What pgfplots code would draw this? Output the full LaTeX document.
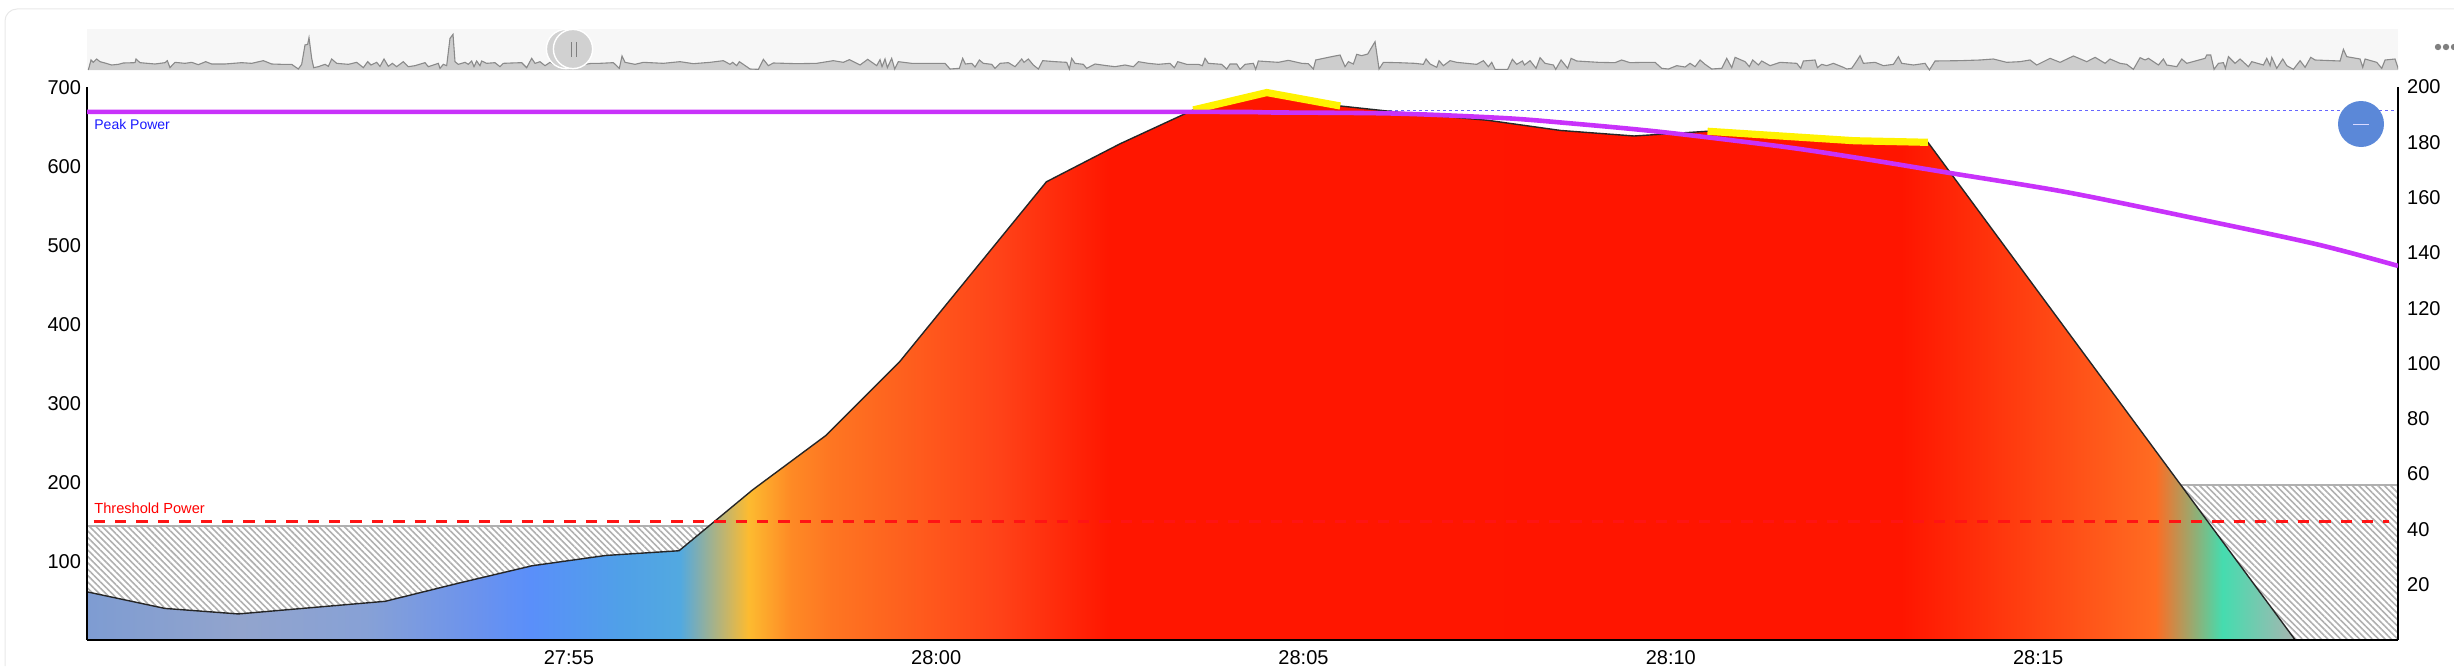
\documentclass[border=0pt]{standalone}
\usepackage{pgfplots}
\pgfplotsset{compat=1.18}
\usepackage{pgfplotstable}
\usepackage{fontspec}
\setmainfont{Liberation Sans}
\usetikzlibrary{patterns.meta}
\definecolor{gA}{HTML}{7E9CD2}\definecolor{gB}{HTML}{92A4CD}\definecolor{gC}{HTML}{87A1D6}
\definecolor{gD}{HTML}{6A92EE}\definecolor{gE}{HTML}{5A8FFA}\definecolor{gF}{HTML}{50A0E8}
\definecolor{gG}{HTML}{52A9E0}\definecolor{gH}{HTML}{FDBB30}\definecolor{gI}{HTML}{FE8A25}
\definecolor{gJ}{HTML}{FE7622}\definecolor{gK}{HTML}{FF4218}\definecolor{gL}{HTML}{FF1600}
\definecolor{gM}{HTML}{FF1500}\definecolor{gN}{HTML}{FF6C22}\definecolor{gO}{HTML}{45DCAF}
\definecolor{gP}{HTML}{A8B5B0}
\definecolor{purp}{HTML}{C832FA}\definecolor{hatch}{HTML}{B0B0B0}
\definecolor{ovfill}{HTML}{CDCDCD}\definecolor{ovline}{HTML}{8A8A8A}
\definecolor{thr}{HTML}{FF1414}
\pgfdeclarehorizontalshading{zones}{100bp}{
 color(0bp)=(gA); color(25bp)=(gA); color(28.47bp)=(gB); color(31.32bp)=(gC);
 color(33.9bp)=(gD); color(35.04bp)=(gE); color(37.08bp)=(gF); color(38.43bp)=(gG);
 color(39.98bp)=(gH); color(40.93bp)=(gI); color(41.83bp)=(gJ); color(45.68bp)=(gK);
 color(48.18bp)=(gL); color(66.07bp)=(gM); color(71.83bp)=(gN); color(73.35bp)=(gO);
 color(75bp)=(gP); color(100bp)=(gP)}
\pgfplotstableread{
t v
1668.44 61
1669.5 40
1670.5 33
1671.5 41
1672.5 49
1673.5 72
1674.5 94
1675.5 107
1676.5 113
1677.5 190
1678.5 259
1679.5 352
1680.5 466
1681.5 580
1682.5 628
1683.5 671
1684.5 693
1685.5 676
1686.5 666
1687.5 658
1688.5 645
1689.5 638
1690.5 644
1691.5 638
1692.5 632
1693.5 630
1694.5 504
1695.5 378
1696.5 252
1697.5 126
1698.5 0
}\power
\pgfplotstableread{
t v
1668.44 191
1682.9 191
1684.54 190.8
1686.25 190.4
1687.7 188.8
1688.53 187.1
1689.85 183.8
1691.53 178.4
1692.56 174.3
1693.8 168.9
1695.38 162
1697.08 152.8
1698.78 143.2
1699.9 135.3
}\hr
\pgfplotstableread{
X Y
10 135
18 105
25 112
35 102
45 110
60 114
80 120
100 118
115 114
150 113
153 102
165 113
210 117
240 113
247 107
255 128
262 120
270 112
300 115
320 112
340 119
362 110
380 117
420 117
470 113
500 115
535 107
560 117
590 118
620 118
640 132
650 118
660 60
668 58
672 38
680 100
686 128
700 125
720 118
730 124
740 102
755 115
790 118
815 112
835 128
848 110
858 120
875 112
885 124
897 102
910 124
922 115
935 125
955 110
970 125
990 122
1020 113
1030 125
1060 115
1065 130
1075 118
1085 122
1095 40
1104 28
1110 110
1120 118
1140 112
1150 118
1160 108
1167 125
1175 108
1185 122
1190 108
1205 115
1230 113
1245 125
1255 115
1280 114
1310 113
1325 128
1340 100
1350 115
1365 110
1380 122
1395 112
1420 125
1500 118
1520 115
1545 115
}\ovA
\pgfplotstableread{
X Y
0 115
40 113
58 130
66 93
75 112
105 118
130 112
190 115
240 110
280 116
330 112
370 107
390 118
398 112
410 122
418 110
440 125
450 132
475 133
490 103
505 122
520 114
590 116
650 115
700 107
730 112
748 104
780 120
803 103
830 122
840 104
846 125
855 102
862 128
875 100
884 132
895 110
935 115
990 115
1035 115
1050 132
1078 130
1088 100
1096 117
1115 115
1125 126
1138 105
1150 115
1175 118
1185 130
1200 115
1225 113
1245 125
1265 102
1272 112
1285 102
1300 120
1315 132
1328 107
1365 110
1400 112
1408 132
1415 100
1425 115
1450 118
1460 130
1485 117
1520 122
1545 125
}\ovB
\pgfplotstableread{
X Y
0 125
30 120
55 125
70 110
100 115
130 118
165 115
178 128
188 110
215 118
250 118
262 122
270 100
280 115
320 118
335 132
345 117
365 117
375 133
390 118
415 115
422 133
430 108
490 112
520 106
560 115
580 116
595 132
602 105
640 97
675 90
690 125
700 110
715 117
725 88
740 92
758 87
780 50
792 132
805 112
850 113
900 115
925 118
933 102
945 117
965 127
972 107
985 122
1005 107
1025 112
1085 118
1105 107
1120 125
1130 112
1140 133
1178 133
1192 103
1205 118
1222 108
1228 120
1245 107
1263 130
1275 98
1290 115
1315 120
1322 133
1338 105
1358 130
1368 100
1385 108
1450 112
1500 113
1520 105
1545 113
}\ovC
\pgfplotstableread{
X Y
0 113
40 112
75 112
95 130
115 132
140 122
165 126
180 115
195 125
210 105
225 118
245 132
275 130
290 100
305 128
315 97
345 110
358 125
368 105
385 120
395 108
420 122
450 112
500 115
512 130
520 108
555 105
562 128
575 118
590 122
610 115
640 127
650 132
665 130
680 108
690 92
700 115
735 112
760 122
790 118
805 95
815 115
850 120
885 115
898 135
915 108
990 107
1050 105
1090 102
1130 112
1170 110
1200 105
1220 120
1260 100
1290 112
1330 93
1370 110
1395 97
1425 115
1440 102
1470 115
1490 118
1510 133
1530 98
1545 105
}\ovD
\pgfplotstableread{
X Y
435 105
445 100
475 120
490 102
500 120
530 125
545 102
560 115
615 100
620 90
632 90
642 133
655 115
670 113
676 130
685 95
705 115
720 102
745 125
755 110
790 120
800 100
810 122
815 97
830 130
848 102
860 122
880 133
900 107
915 127
932 97
945 105
1020 108
1030 73
1040 95
1080 102
1088 127
1095 102
1130 112
1145 130
1155 105
1185 102
1195 133
}\ovE
\newcommand{\ovfull}[2]{%
 \addplot[draw=none,fill=ovfill,forget plot] table[x expr=#2+\thisrow{X}/3,y expr=135-\thisrow{Y}] {#1} \closedcycle;
 \addplot[draw=ovline,line width=0.55pt,forget plot] table[x expr=#2+\thisrow{X}/3,y expr=135-\thisrow{Y}] {#1};
}
\def\PX(#1,#2){({(#1)*0.5pt},{(666-(#2))*0.5pt})}
\begin{document}
\begin{tikzpicture}[x=1pt,y=1pt]
\path[use as bounding box] (0,0) rectangle (1227pt,333pt);
\draw[color=black!9,line width=0.5pt,rounded corners=6pt] \PX(5,666) -- \PX(5,9) -- \PX(2454,9);
% overview strip
\begin{axis}[at={(43.5pt,298pt)},anchor=south west,scale only axis,width=1155.5pt,height=20.5pt,
 xmin=87,xmax=2398,ymin=0,ymax=123,axis line style={draw=none},ticks=none,clip=true,
 axis background/.style={fill=black!3}]
\ovfull{\ovA}{85}
\ovfull{\ovB}{600}
\ovfull{\ovC}{1115}
\ovfull{\ovD}{1630}
\ovfull{\ovE}{2000}
\end{axis}
% power axis
\begin{axis}[at={(43.5pt,13pt)},anchor=south west,scale only axis,width=1155.5pt,height=276.5pt,
 xmin=1668.44,xmax=1699.9,ymin=0,ymax=700,axis on top,
 axis y line*=left,axis x line*=bottom,axis line style={black,line width=1.2pt,-},
 xtick={1675,1680,1685,1690,1695},xticklabels={27:55,28:00,28:05,28:10,28:15},
 ytick={100,200,300,400,500,600,700},
 major tick length=0pt,
 /pgf/number format/assume math mode=true,
 tick label style={font=\fontsize{10}{12}\selectfont,black},
 yticklabel style={xshift=0.5pt,yshift=-0.5pt},xticklabel style={yshift=-1.5pt},
 clip=false]
\addplot[draw=blue!60,line width=0.5pt,dash pattern=on 1.5pt off 1.5pt,forget plot] coordinates {(1668.44,670)(1699.9,670)};
\addplot[draw=none,pattern={Lines[angle=-45,distance=2.25pt,line width=0.8pt]},pattern color=hatch,forget plot] coordinates {(1668.44,144)(1677,144)} \closedcycle;
\addplot[draw=hatch,line width=1pt,forget plot] coordinates {(1668.44,144)(1677,144)};
\addplot[draw=none,pattern={Lines[angle=-45,distance=2.25pt,line width=0.8pt]},pattern color=hatch,forget plot] coordinates {(1696.9,196)(1699.9,196)} \closedcycle;
\addplot[draw=hatch,line width=1pt,forget plot] coordinates {(1696.9,196)(1699.9,196)};
\addplot[draw=none,shading=zones,forget plot] table[x=t,y=v] {\power} \closedcycle;
\addplot[draw=black!85,line width=0.7pt,forget plot] table[x=t,y=v] {\power};
\addplot[draw=yellow,line width=3.6pt,forget plot] coordinates {(1683.5,671)(1684.5,693)(1685.5,676)};
\addplot[draw=yellow,line width=3.6pt,forget plot] coordinates {(1690.5,644)(1691.5,638)(1692.5,632)(1693.5,630)};
\addplot[draw=thr,line width=1.1pt,dash pattern=on 5.7pt off 5pt,forget plot] coordinates {(1668.53,150)(1699.78,150)};
\end{axis}
% heart-rate axis
\begin{axis}[at={(43.5pt,13pt)},anchor=south west,scale only axis,width=1155.5pt,height=276.5pt,
 xmin=1668.44,xmax=1699.9,ymin=0,ymax=200,
 axis y line*=right,axis x line=none,axis line style={black,line width=1.2pt,-},
 ytick={20,40,60,80,100,120,140,160,180,200},
 major tick length=0pt,
 /pgf/number format/assume math mode=true,
 tick label style={font=\fontsize{10}{12}\selectfont,black},
 yticklabel style={xshift=1pt},
 clip=true]
\addplot[draw=purp,line width=2.3pt,smooth,tension=0.5,forget plot] table[x=t,y=v] {\hr};
\end{axis}
% labels and interface marks
\node[anchor=base west,inner sep=0pt,text=blue!90!white,font=\fontsize{7}{8}\selectfont] at \PX(94,129) {Peak Power};
\node[anchor=base west,inner sep=0pt,text=red,font=\fontsize{7.3}{8}\selectfont] at \PX(94,513) {Threshold Power};
\fill[color={rgb,255:red,91;green,136;blue,216}] \PX(2361,124) circle (11.5pt);
\draw[white!85!blue,line width=0.4pt] \PX(2353,124) -- \PX(2369,124);
\filldraw[fill=black!18,draw=white,line width=0.7pt] \PX(566,49) circle (9.8pt);
\filldraw[fill=black!18,draw=white,line width=0.7pt] \PX(573,49) circle (9.8pt);
\draw[black!50,line width=0.5pt] \PX(571.5,42) -- \PX(571.5,57);
\draw[black!50,line width=0.5pt] \PX(576.5,42) -- \PX(576.5,57);
\fill[black!50] \PX(2438,47) circle (1.6pt);
\fill[black!50] \PX(2446,47) circle (1.6pt);
\fill[black!50] \PX(2454,47) circle (1.6pt);
\end{tikzpicture}
\end{document}
